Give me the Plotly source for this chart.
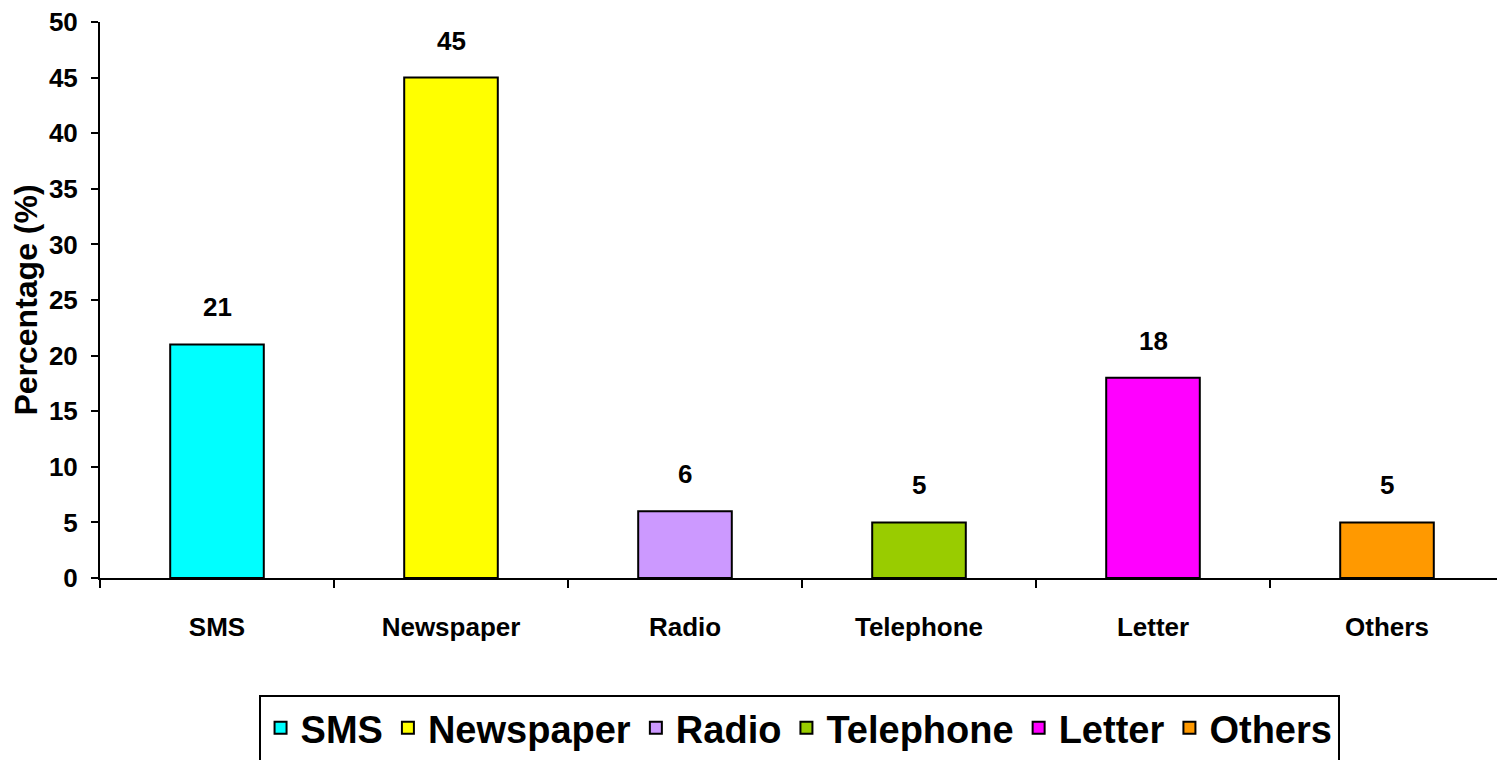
import plotly.graph_objects as go

categories = ["SMS", "Newspaper", "Radio", "Telephone", "Letter", "Others"]
values = [21, 45, 6, 5, 18, 5]
colors = ["#00FFFF", "#FFFF00", "#CC99FF", "#99CC00", "#FF00FF", "#FF9900"]
y_ticks = list(range(0, 55, 5))

FONT = "Liberation Sans, Arial, sans-serif"

fig = go.Figure()
fig.add_trace(go.Bar(
    x=categories, y=values,
    marker=dict(color=colors, line=dict(color="black", width=2)),
    width=0.4, showlegend=False, hoverinfo="x+y",
))

# legend entries
for c, col in zip(categories, colors):
    fig.add_trace(go.Scatter(
        x=[None], y=[None], mode="markers", name=c,
        marker=dict(symbol="square", size=16, color=col, line=dict(color="black", width=2)),
    ))

for c, v in zip(categories, values):
    fig.add_annotation(
        x=c, y=v, text=f"<b>{v}</b>", showarrow=False,
        yanchor="bottom", yshift=20,
        font=dict(family=FONT, size=26, color="black"),
    )

fig.update_layout(
    width=1497, height=752,
    margin=dict(l=92, r=1, t=14, b=182),
    paper_bgcolor="white", plot_bgcolor="white",
    font=dict(family=FONT, color="black"),
    showlegend=True,
    legend=dict(
        orientation="h", x=0.4979, xanchor="center",
        yref="container", y=0.087, yanchor="top",
        bordercolor="black", borderwidth=2, bgcolor="white",
        font=dict(family=FONT, size=38, color="black", weight="bold"),
        itemsizing="constant", tracegroupgap=0,
    ),
    xaxis=dict(
        type="category", range=[-0.5, 5.5], automargin=False,
        showline=True, linecolor="black", linewidth=2,
        ticks="outside", tickson="boundaries", ticklen=8, tickwidth=2, tickcolor="black",
        tickfont=dict(family=FONT, size=26, color="black", weight="bold"),
        ticklabelstandoff=25, showgrid=False, zeroline=False,
    ),
    yaxis=dict(
        range=[0, 50], tickvals=y_ticks, automargin=False,
        showline=True, linecolor="black", linewidth=2,
        ticks="outside", ticklen=7, tickwidth=2, tickcolor="black",
        tickfont=dict(family=FONT, size=26, color="black", weight="bold"),
        ticklabelstandoff=8, ticklabeloverflow="allow",
        showgrid=False, zeroline=False,
        title=dict(text="<b>Percentage (%)</b>", standoff=2,
                   font=dict(family=FONT, size=32, color="black")),
    ),
)

fig.write_html("out.html")
